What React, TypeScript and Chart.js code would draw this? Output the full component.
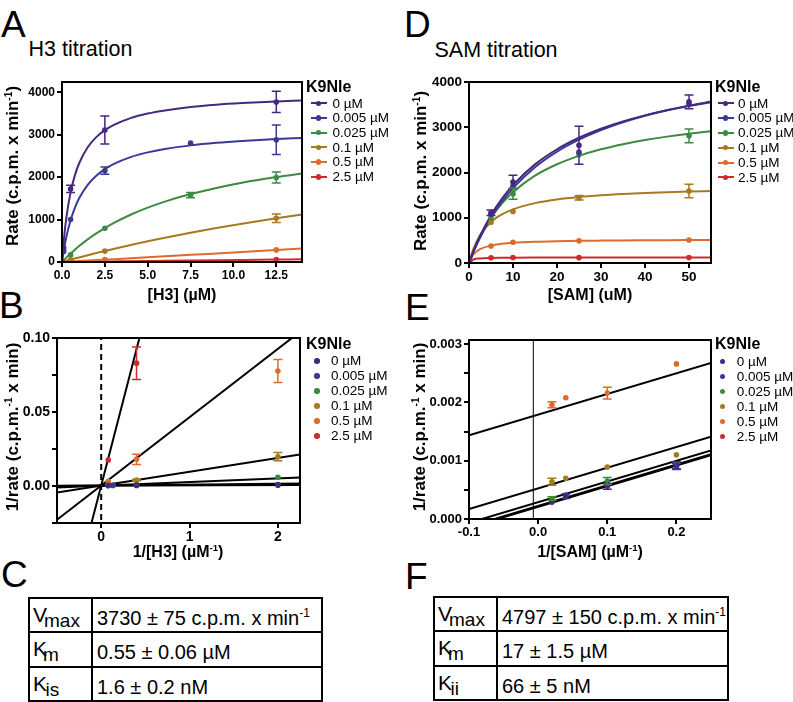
import React, { useEffect, useRef } from 'react';
import { Chart, registerables } from 'chart.js';

Chart.register(...registerables);

const FONT = "'Liberation Sans', Arial, Helvetica, sans-serif";

// ---------- shared ----------
const K9NLE_LABELS = ['0 µM', '0.005 µM', '0.025 µM', '0.1 µM', '0.5 µM', '2.5 µM'];
const SERIES_COLORS = ['#46287F', '#3A3A96', '#3C8B41', '#A57A21', '#DE6B2B', '#CF2A2C'];

// ---------- A: H3 titration (rate, c.p.m. x min-1) ----------
const H3_CONC = [0, 0.1, 0.5, 2.5, 7.5, 12.5];
const H3_RATE_0 = [0, 330, 1720, 3110, null, 3770];
const H3_RATE_005 = [0, 250, 1000, 2150, 2800, 2880];
const H3_RATE_025 = [0, null, 167, 795, 1575, 1992];
const H3_RATE_01 = [0, null, 49, 257, null, 1031];
const H3_RATE_05 = [0, null, 12, 55, null, 285];
const H3_RATE_25 = [0, null, 2, 12, null, 57];
const H3_ERR_0 = [0, 0, 85, 330, 0, 250];
const H3_ERR_005 = [0, 0, 0, 85, 0, 350];
const H3_ERR_025 = [0, 0, 0, 0, 60, 130];
const H3_ERR_01 = [0, 0, 0, 0, 0, 100];
const H3_ERR_05 = [0, 0, 0, 0, 0, 0];
const H3_ERR_25 = [0, 0, 0, 0, 0, 0];

const H3_FIT_X = [0, 0.1, 0.25, 0.5, 0.75, 1, 1.5, 2, 2.5, 3, 4, 5, 6, 7.5, 9, 10.5, 12.5, 14];
const H3_FIT_0 = [0, 488, 1031, 1639, 2041, 2326, 2703, 2941, 3106, 3226, 3390, 3497, 3571, 3650, 3704, 3743, 3782, 3804];
const H3_FIT_005 = [0, 263, 583, 984, 1277, 1500, 1817, 2032, 2187, 2305, 2471, 2582, 2662, 2747, 2807, 2851, 2895, 2921];
const H3_FIT_025 = [0, 42, 103, 200, 291, 376, 533, 674, 800, 914, 1113, 1280, 1422, 1600, 1745, 1867, 2000, 2084];
const H3_FIT_01 = [0, 11, 28, 55, 82, 108, 160, 211, 260, 308, 400, 488, 571, 689, 800, 902, 1030, 1118];
const H3_FIT_05 = [0, 2, 6, 11, 17, 22, 34, 45, 56, 67, 90, 112, 135, 168, 202, 236, 281, 318];
const H3_FIT_25 = [0, 0.5, 1.2, 2.3, 3.5, 4.6, 6.9, 9.2, 11.5, 13.8, 18.4, 23, 27.6, 34.5, 41.4, 48.3, 57.5, 64.4];

const H3_X_TICKS = [0, 2.5, 5, 7.5, 10, 12.5];
const H3_Y_TICKS = [0, 1000, 2000, 3000, 4000];

// ---------- B: double reciprocal, H3 ----------
const INV_H3 = [0.08, 0.133, 0.4, 2];
const INV_H3_RATE_0 = [0.00027, null, 0.00032, 0.00058];
const INV_H3_RATE_005 = [0.00035, 0.00036, 0.00047, 0.001];
const INV_H3_RATE_025 = [0.0005, 0.00063, 0.00126, 0.0059];
const INV_H3_RATE_01 = [0.00097, null, 0.004, 0.0198];
const INV_H3_RATE_05 = [0.0032, null, 0.018, 0.0777];
const INV_H3_RATE_25 = [0.0176, null, 0.083, null];
const INV_H3_ERR_0 = [0, 0, 0, 0];
const INV_H3_ERR_005 = [0, 0, 0, 0];
const INV_H3_ERR_025 = [0, 0, 0, 0];
const INV_H3_ERR_01 = [0, 0, 0.0005, 0.0028];
const INV_H3_ERR_05 = [0, 0, 0.0035, 0.0077];
const INV_H3_ERR_25 = [0, 0, 0.011, 0];

const INV_H3_LINE_X = [-0.5, 2.25];
const INV_H3_LINE_0 = [0.000195, 0.000599];
const INV_H3_LINE_005 = [-0.000035, 0.001632];
const INV_H3_LINE_025 = [-0.000952, 0.005758];
const INV_H3_LINE_01 = [-0.004412, 0.021328];
const INV_H3_LINE_05 = [-0.022832, 0.104218];
const INV_H3_LINE_25 = [-0.114982, 0.518893];
const INV_H3_ORIGIN_X = [0, 0];
const INV_H3_ORIGIN_Y = [-0.05, 0.2];

const INV_H3_X_TICKS = [0, 1, 2];
const INV_H3_Y_TICKS = [-0.025, 0, 0.025, 0.05, 0.075, 0.1];

// ---------- D: SAM titration ----------
const SAM_CONC = [0, 5, 10, 25, 50];
const SAM_RATE_0 = [0, 1110, 1790, 2600, 3560];
const SAM_RATE_005 = [0, 1080, 1700, 2450, 3510];
const SAM_RATE_025 = [0, 1000, 1530, 2400, 2810];
const SAM_RATE_01 = [0, 900, 1140, 1440, 1590];
const SAM_RATE_05 = [0, 376, 460, 490, 508];
const SAM_RATE_25 = [0, 115, 120, 118, 122];
const SAM_ERR_0 = [0, 60, 150, 420, 150];
const SAM_ERR_005 = [0, 0, 0, 0, 0];
const SAM_ERR_025 = [0, 0, 120, 0, 150];
const SAM_ERR_01 = [0, 0, 0, 50, 150];
const SAM_ERR_05 = [0, 0, 0, 0, 0];
const SAM_ERR_25 = [0, 0, 0, 0, 0];

const SAM_FIT_X = [0, 1, 2.5, 5, 7.5, 10, 15, 20, 25, 30, 35, 40, 45, 50, 55];
const SAM_FIT_0 = [0, 258, 596, 1057, 1423, 1722, 2180, 2514, 2768, 2968, 3130, 3263, 3375, 3470, 3552];
const SAM_FIT_005 = [0, 240, 558, 1000, 1358, 1655, 2118, 2462, 2727, 2939, 3111, 3254, 3375, 3478, 3568];
const SAM_FIT_025 = [0, 257, 581, 1000, 1317, 1565, 1929, 2182, 2368, 2512, 2625, 2717, 2793, 2857, 2912];
const SAM_FIT_01 = [0, 313, 614, 905, 1075, 1186, 1323, 1404, 1458, 1496, 1524, 1546, 1564, 1578, 1590];
const SAM_FIT_05 = [0, 188, 305, 386, 423, 445, 469, 482, 490, 495, 499, 502, 505, 507, 508];
const SAM_FIT_25 = [0, 78, 101, 112, 116, 118, 120, 121, 122, 123, 123, 124, 124, 124, 124];

const SAM_X_TICKS = [0, 10, 20, 30, 40, 50];
const SAM_Y_TICKS = [0, 1000, 2000, 3000, 4000];

// ---------- E: double reciprocal, SAM ----------
const INV_SAM = [0.02, 0.04, 0.1, 0.2];
const INV_SAM_RATE_0 = [0.00029, 0.00039, 0.00056, 0.00092];
const INV_SAM_RATE_005 = [0.0003, 0.00041, 0.0006, 0.0009];
const INV_SAM_RATE_025 = [0.00035, 0.0004, 0.00065, 0.00095];
const INV_SAM_RATE_01 = [0.00064, 0.0007, 0.00089, 0.0011];
const INV_SAM_RATE_05 = [0.00196, 0.00208, 0.00216, 0.00266];
const INV_SAM_RATE_25 = [0.0087, 0.0085, 0.0083, 0.0086];
const INV_SAM_ERR_0 = [0, 0.00004, 0.00005, 0.00006];
const INV_SAM_ERR_005 = [0, 0, 0, 0.00005];
const INV_SAM_ERR_025 = [0.00003, 0, 0.00006, 0];
const INV_SAM_ERR_01 = [0.00006, 0, 0, 0];
const INV_SAM_ERR_05 = [0.00005, 0, 0.0001, 0];
const INV_SAM_ERR_25 = [0, 0, 0, 0];

const INV_SAM_LINE_X = [-0.1, 0.25];
const INV_SAM_LINE_0 = [-0.000146, 0.001094];
const INV_SAM_LINE_005 = [-0.00013, 0.00111];
const INV_SAM_LINE_025 = [-0.000066, 0.001174];
const INV_SAM_LINE_01 = [0.00017, 0.00141];
const INV_SAM_LINE_05 = [0.001436, 0.002676];
const INV_SAM_LINE_25 = [0.0077, 0.0089];
const INV_SAM_REF_X = [-0.007, -0.007];
const INV_SAM_REF_Y = [-0.001, 0.004];

const INV_SAM_X_TICKS = [-0.1, 0, 0.1, 0.2];
const INV_SAM_Y_TICKS = [0, 0.0005, 0.001, 0.0015, 0.002, 0.0025, 0.003];

// ---------- tables ----------
const TABLE_C = [
  { sym: 'V', sub: 'max', value: '3730 ± 75 c.p.m. x min', sup: '-1' },
  { sym: 'K', sub: 'm', value: '0.55 ± 0.06 µM', sup: '' },
  { sym: 'K', sub: 'is', value: '1.6 ± 0.2 nM', sup: '' },
];
const TABLE_F = [
  { sym: 'V', sub: 'max', value: '4797 ± 150 c.p.m. x min', sup: '-1' },
  { sym: 'K', sub: 'm', value: '17 ± 1.5 µM', sup: '' },
  { sym: 'K', sub: 'ii', value: '66 ± 5 nM', sup: '' },
];

// ---------- chart helpers ----------
const errorBarPlugin = {
  id: 'errorBars',
  afterDatasetsDraw(chart: any) {
    const { ctx, chartArea: a } = chart;
    const xs = chart.scales.x;
    const ys = chart.scales.y;
    ctx.save();
    ctx.beginPath();
    ctx.rect(a.left, a.top, a.right - a.left, a.bottom - a.top);
    ctx.clip();
    chart.data.datasets.forEach((ds: any) => {
      if (ds.showLine) return;
      ds.data.forEach((p: any) => {
        if (!p || !p.e) return;
        const x = xs.getPixelForValue(p.x);
        const yT = ys.getPixelForValue(p.y + p.e);
        const yB = ys.getPixelForValue(p.y - p.e);
        const cap = 4.5;
        ctx.strokeStyle = ds.backgroundColor;
        ctx.lineWidth = 1.5;
        ctx.beginPath();
        ctx.moveTo(x, yT);
        ctx.lineTo(x, yB);
        ctx.moveTo(x - cap, yT);
        ctx.lineTo(x + cap, yT);
        ctx.moveTo(x - cap, yB);
        ctx.lineTo(x + cap, yB);
        ctx.stroke();
      });
    });
    ctx.restore();
  },
};

const framePlugin = {
  id: 'frame',
  afterDatasetsDraw(chart: any) {
    const { ctx, chartArea: a } = chart;
    ctx.save();
    ctx.strokeStyle = '#000';
    ctx.lineWidth = 2;
    ctx.strokeRect(a.left, a.top, a.right - a.left, a.bottom - a.top);
    ctx.restore();
  },
};

type AxisOpt = {
  min: number;
  max: number;
  ticks: number[];
  fmt: (v: number) => string;
  size: number;
  fixed: number;
};

function scaleOpts(axis: 'x' | 'y', o: AxisOpt) {
  return {
    type: 'linear',
    position: axis === 'x' ? 'bottom' : 'left',
    min: o.min,
    max: o.max,
    border: { display: false },
    grid: {
      display: true,
      drawOnChartArea: false,
      drawTicks: true,
      tickLength: 5,
      color: '#000',
      lineWidth: 2,
    },
    ticks: {
      autoSkip: false,
      maxRotation: 0,
      minRotation: 0,
      padding: axis === 'x' ? 1 : 2,
      color: '#000',
      font: { family: FONT, size: o.size, weight: 'bold' },
      callback: (v: any) => o.fmt(Number(v)),
    },
    afterBuildTicks: (s: any) => {
      s.ticks = o.ticks.map((value) => ({ value }));
    },
    afterFit: (s: any) => {
      if (axis === 'x') s.height = o.fixed;
      else s.width = o.fixed;
    },
  };
}

function curveDs(xs: number[], ys: number[], color: string, extra: any = {}) {
  return {
    data: xs.map((x, i) => ({ x, y: ys[i] })),
    showLine: true,
    borderColor: color,
    backgroundColor: color,
    borderWidth: 2,
    pointRadius: 0,
    pointHoverRadius: 0,
    cubicInterpolationMode: 'monotone',
    fill: false,
    order: 2,
    ...extra,
  };
}

function pointDs(xs: number[], ys: (number | null)[], errs: number[], color: string) {
  const data: any[] = [];
  xs.forEach((x, i) => {
    const y = ys[i];
    if (y !== null && y !== undefined) data.push({ x, y, e: errs[i] || 0 });
  });
  return {
    data,
    showLine: false,
    pointRadius: 2.8,
    pointHoverRadius: 2.8,
    pointBackgroundColor: color,
    pointBorderWidth: 0,
    backgroundColor: color,
    borderColor: color,
    order: 1,
  };
}

function baseConfig(datasets: any[], padRight: number, x: AxisOpt, y: AxisOpt) {
  return {
    type: 'scatter',
    data: { datasets },
    options: {
      responsive: false,
      animation: false,
      events: [],
      layout: { padding: { left: 0, top: 12, right: padRight, bottom: 0 } },
      plugins: { legend: { display: false }, tooltip: { enabled: false } },
      scales: { x: scaleOpts('x', x), y: scaleOpts('y', y) },
    },
    plugins: [errorBarPlugin, framePlugin],
  };
}

const isMultiple = (v: number, m: number) => Math.abs(v / m - Math.round(v / m)) < 1e-6;

function makeA() {
  const fits = [H3_FIT_0, H3_FIT_005, H3_FIT_025, H3_FIT_01, H3_FIT_05, H3_FIT_25];
  const rates = [H3_RATE_0, H3_RATE_005, H3_RATE_025, H3_RATE_01, H3_RATE_05, H3_RATE_25];
  const errs = [H3_ERR_0, H3_ERR_005, H3_ERR_025, H3_ERR_01, H3_ERR_05, H3_ERR_25];
  const ds: any[] = [];
  fits.forEach((f, i) => ds.push(curveDs(H3_FIT_X, f, SERIES_COLORS[i])));
  rates.forEach((r, i) => ds.push(pointDs(H3_CONC, r, errs[i], SERIES_COLORS[i])));
  return baseConfig(
    ds,
    18,
    { min: 0, max: 14, ticks: H3_X_TICKS, fmt: (v) => v.toFixed(1), size: 12, fixed: 28 },
    { min: 0, max: 4240, ticks: H3_Y_TICKS, fmt: (v) => String(Math.round(v)), size: 12, fixed: 62 }
  );
}

function makeB() {
  const lines = [INV_H3_LINE_0, INV_H3_LINE_005, INV_H3_LINE_025, INV_H3_LINE_01, INV_H3_LINE_05, INV_H3_LINE_25];
  const rates = [INV_H3_RATE_0, INV_H3_RATE_005, INV_H3_RATE_025, INV_H3_RATE_01, INV_H3_RATE_05, INV_H3_RATE_25];
  const errs = [INV_H3_ERR_0, INV_H3_ERR_005, INV_H3_ERR_025, INV_H3_ERR_01, INV_H3_ERR_05, INV_H3_ERR_25];
  const ds: any[] = [];
  ds.push({
    data: INV_H3_ORIGIN_X.map((x, i) => ({ x, y: INV_H3_ORIGIN_Y[i] })),
    showLine: true,
    borderColor: '#000',
    borderWidth: 2,
    borderDash: [6, 4],
    pointRadius: 0,
    tension: 0,
    order: 3,
  });
  lines.forEach((l) => ds.push(curveDs(INV_H3_LINE_X, l, '#000', { tension: 0, cubicInterpolationMode: 'default' })));
  rates.forEach((r, i) => ds.push(pointDs(INV_H3, r, errs[i], SERIES_COLORS[i])));
  return baseConfig(
    ds,
    20,
    { min: -0.5, max: 2.25, ticks: INV_H3_X_TICKS, fmt: (v) => String(Math.round(v)), size: 14, fixed: 28 },
    {
      min: -0.025,
      max: 0.1,
      ticks: INV_H3_Y_TICKS,
      fmt: (v) => (isMultiple(v, 0.05) ? v.toFixed(2) : ''),
      size: 14,
      fixed: 57,
    }
  );
}

function makeD() {
  const fits = [SAM_FIT_0, SAM_FIT_005, SAM_FIT_025, SAM_FIT_01, SAM_FIT_05, SAM_FIT_25];
  const rates = [SAM_RATE_0, SAM_RATE_005, SAM_RATE_025, SAM_RATE_01, SAM_RATE_05, SAM_RATE_25];
  const errs = [SAM_ERR_0, SAM_ERR_005, SAM_ERR_025, SAM_ERR_01, SAM_ERR_05, SAM_ERR_25];
  const ds: any[] = [];
  fits.forEach((f, i) => ds.push(curveDs(SAM_FIT_X, f, SERIES_COLORS[i])));
  rates.forEach((r, i) => ds.push(pointDs(SAM_CONC, r, errs[i], SERIES_COLORS[i])));
  return baseConfig(
    ds,
    19,
    { min: 0, max: 55, ticks: SAM_X_TICKS, fmt: (v) => String(Math.round(v)), size: 13.5, fixed: 27 },
    { min: 0, max: 4000, ticks: SAM_Y_TICKS, fmt: (v) => String(Math.round(v)), size: 13.5, fixed: 69 }
  );
}

function makeE() {
  const lines = [INV_SAM_LINE_0, INV_SAM_LINE_005, INV_SAM_LINE_025, INV_SAM_LINE_01, INV_SAM_LINE_05, INV_SAM_LINE_25];
  const rates = [INV_SAM_RATE_0, INV_SAM_RATE_005, INV_SAM_RATE_025, INV_SAM_RATE_01, INV_SAM_RATE_05, INV_SAM_RATE_25];
  const errs = [INV_SAM_ERR_0, INV_SAM_ERR_005, INV_SAM_ERR_025, INV_SAM_ERR_01, INV_SAM_ERR_05, INV_SAM_ERR_25];
  const ds: any[] = [];
  ds.push({
    data: INV_SAM_REF_X.map((x, i) => ({ x, y: INV_SAM_REF_Y[i] })),
    showLine: true,
    borderColor: '#000',
    borderWidth: 1,
    pointRadius: 0,
    tension: 0,
    order: 3,
  });
  lines.forEach((l) => ds.push(curveDs(INV_SAM_LINE_X, l, '#000', { tension: 0, cubicInterpolationMode: 'default' })));
  rates.forEach((r, i) => ds.push(pointDs(INV_SAM, r, errs[i], SERIES_COLORS[i])));
  return baseConfig(
    ds,
    19,
    { min: -0.1, max: 0.25, ticks: INV_SAM_X_TICKS, fmt: (v) => v.toFixed(1), size: 13, fixed: 29 },
    {
      min: 0,
      max: 0.00307,
      ticks: INV_SAM_Y_TICKS,
      fmt: (v) => (isMultiple(v, 0.001) ? v.toFixed(3) : ''),
      size: 13,
      fixed: 69,
    }
  );
}

// ---------- components ----------
function ChartBox({ left, top, width, height, make }: any) {
  const ref = useRef<HTMLCanvasElement>(null);
  useEffect(() => {
    const chart = new Chart(ref.current as HTMLCanvasElement, make() as any);
    return () => chart.destroy();
  }, []);
  return (
    <canvas
      ref={ref}
      width={width}
      height={height}
      style={{ position: 'absolute', left, top, width, height }}
    />
  );
}

function Txt({ x, base, size, bold, children }: any) {
  return (
    <div
      style={{
        position: 'absolute',
        left: x,
        top: base - 0.8465 * size,
        fontSize: size,
        lineHeight: `${size}px`,
        fontWeight: bold ? 700 : 400,
        whiteSpace: 'nowrap',
      }}
    >
      {children}
    </div>
  );
}

function Sup({ children }: any) {
  return (
    <span style={{ fontSize: '0.6em', position: 'relative', top: '-0.6em', lineHeight: 0 }}>{children}</span>
  );
}

function HTitle({ cx, cy, size, children }: any) {
  return (
    <div
      style={{
        position: 'absolute',
        left: cx,
        top: cy,
        transform: 'translate(-50%,-50%)',
        fontSize: size,
        lineHeight: 1,
        fontWeight: 700,
        whiteSpace: 'nowrap',
      }}
    >
      {children}
    </div>
  );
}

function VTitle({ cx, cy, size, children }: any) {
  return (
    <div
      style={{
        position: 'absolute',
        left: cx,
        top: cy,
        transform: 'translate(-50%,-50%) rotate(-90deg)',
        fontSize: size,
        lineHeight: 1,
        fontWeight: 700,
        whiteSpace: 'nowrap',
      }}
    >
      {children}
    </div>
  );
}

function Legend({ titleX, titleBase, symX, textX, y0, dy, line }: any) {
  return (
    <>
      <Txt x={titleX} base={titleBase} size={16} bold>
        K9Nle
      </Txt>
      {K9NLE_LABELS.map((lab, i) => {
        const cy = y0 + i * dy;
        const dotX = line ? symX + 8 : symX;
        return (
          <React.Fragment key={lab}>
            {line && (
              <div
                style={{
                  position: 'absolute',
                  left: symX,
                  top: cy - 1,
                  width: 16,
                  height: 2,
                  background: SERIES_COLORS[i],
                }}
              />
            )}
            <div
              style={{
                position: 'absolute',
                left: dotX - 2.75,
                top: cy - 2.75,
                width: 5.5,
                height: 5.5,
                borderRadius: '50%',
                background: SERIES_COLORS[i],
              }}
            />
            <Txt x={textX} base={cy + 4.8} size={13.5}>
              {lab}
            </Txt>
          </React.Fragment>
        );
      })}
    </>
  );
}

function ParamTable({ x0, x1, x2, rows, data }: any) {
  const lines: any[] = [];
  rows.forEach((y: number, i: number) =>
    lines.push(
      <div key={'h' + i} style={{ position: 'absolute', left: x0 - 1, top: y - 1, width: x2 - x0 + 2, height: 2, background: '#000' }} />
    )
  );
  [x0, x1, x2].forEach((x: number, i: number) =>
    lines.push(
      <div
        key={'v' + i}
        style={{ position: 'absolute', left: x - 1, top: rows[0] - 1, width: 2, height: rows[rows.length - 1] - rows[0] + 2, background: '#000' }}
      />
    )
  );
  return (
    <>
      {lines}
      {data.map((r: any, i: number) => {
        const base = rows[i] + 26.5;
        const shift = r.sub === 'm' ? -4 : r.sub === 'max' ? -3 : -1.5;
        return (
          <React.Fragment key={i}>
            <Txt x={x0 + 4} base={base - 3} size={21}>
              {r.sym}
              <span style={{ fontSize: 19, position: 'relative', top: 5, marginLeft: shift }}>{r.sub}</span>
            </Txt>
            <Txt x={x1 + 5} base={base} size={20}>
              {r.value}
              {r.sup ? <Sup>{r.sup}</Sup> : null}
            </Txt>
          </React.Fragment>
        );
      })}
    </>
  );
}

export default function App() {
  return (
    <div
      style={{
        position: 'absolute',
        left: 0,
        top: 0,
        width: 793,
        height: 702,
        background: '#fff',
        overflow: 'hidden',
        fontFamily: FONT,
        color: '#000',
      }}
    >
      {/* panel letters */}
      <Txt x={1} base={37} size={37}>A</Txt>
      <Txt x={-1} base={318} size={37}>B</Txt>
      <Txt x={1} base={587} size={37}>C</Txt>
      <Txt x={404} base={37} size={37}>D</Txt>
      <Txt x={405} base={320} size={37}>E</Txt>
      <Txt x={405} base={589} size={37}>F</Txt>

      <Txt x={28.5} base={57} size={21.5}>H3 titration</Txt>
      <Txt x={434.5} base={58} size={21.5}>SAM titration</Txt>

      {/* charts */}
      <ChartBox left={0} top={70} width={320} height={220} make={makeA} />
      <ChartBox left={0} top={326} width={320} height={225} make={makeB} />
      <ChartBox left={400} top={70} width={330} height={220} make={makeD} />
      <ChartBox left={400} top={328} width={330} height={220} make={makeE} />

      {/* axis titles */}
      <HTitle cx={182} cy={295} size={16}>[H3] (µM)</HTitle>
      <VTitle cx={12} cy={166} size={17}>
        Rate (c.p.m. x min<Sup>-1</Sup>)
      </VTitle>
      <HTitle cx={178} cy={552} size={16}>
        1/[H3] (µM<Sup>-1</Sup>)
      </HTitle>
      <VTitle cx={12} cy={427} size={17}>
        1/rate (c.p.m.<Sup>-1</Sup> x min)
      </VTitle>
      <HTitle cx={590} cy={295} size={16}>[SAM] (uM)</HTitle>
      <VTitle cx={420} cy={171} size={17}>
        Rate (c.p.m. x min<Sup>-1</Sup>)
      </VTitle>
      <HTitle cx={590} cy={552} size={16}>
        1/[SAM] (µM<Sup>-1</Sup>)
      </HTitle>
      <VTitle cx={419} cy={427} size={17}>
        1/rate (c.p.m.<Sup>-1</Sup> x min)
      </VTitle>

      {/* legends */}
      <Legend titleX={306} titleBase={92.5} symX={310.5} textX={332.5} y0={103.3} dy={14.7} line />
      <Legend titleX={306} titleBase={350} symX={317} textX={331} y0={361} dy={15} />
      <Legend titleX={715} titleBase={92.5} symX={717.5} textX={738} y0={103.3} dy={14.8} line />
      <Legend titleX={715} titleBase={350} symX={722.7} textX={736.7} y0={361.7} dy={15} />

      {/* tables */}
      <ParamTable x0={29} x1={92} x2={322} rows={[598, 632, 667, 701]} data={TABLE_C} />
      <ParamTable x0={434} x1={497} x2={728} rows={[597, 631, 666, 700]} data={TABLE_F} />
    </div>
  );
}
